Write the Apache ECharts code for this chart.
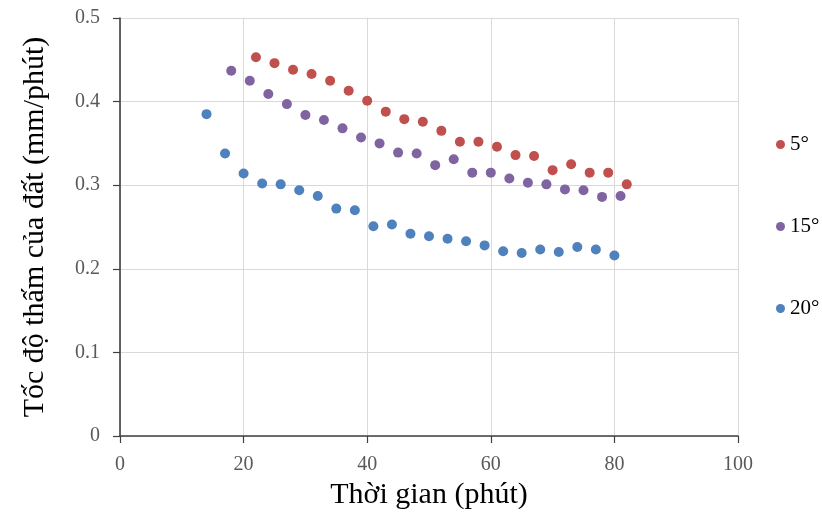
<!DOCTYPE html>
<html>
<head>
<meta charset="utf-8">
<script src="https://cdn.jsdelivr.net/npm/echarts@6/dist/echarts.min.js"></script>
<style>html,body{margin:0;padding:0;background:#fff}#c{width:822px;height:516px}</style>
</head>
<body>
<div id="c"></div>
<script>
const seriesNames = ['5°', '15°', '20°'];
const colors = ['#C0504D', '#8064A2', '#4F81BD'];

const time5 = [22, 25, 28, 31, 34, 37, 40, 43, 46, 49, 52, 55, 58, 61, 64, 67, 70, 73, 76, 79, 82];
const rate5 = [0.453, 0.446, 0.438, 0.433, 0.425, 0.413, 0.401, 0.388, 0.379, 0.376, 0.365, 0.352, 0.352, 0.346, 0.336, 0.335, 0.318, 0.325, 0.315, 0.315, 0.301];

const time15 = [18, 21, 24, 27, 30, 33, 36, 39, 42, 45, 48, 51, 54, 57, 60, 63, 66, 69, 72, 75, 78, 81];
const rate15 = [0.437, 0.425, 0.409, 0.397, 0.384, 0.378, 0.368, 0.357, 0.350, 0.339, 0.338, 0.324, 0.331, 0.315, 0.315, 0.308, 0.303, 0.301, 0.295, 0.294, 0.286, 0.287];

const time20 = [14, 17, 20, 23, 26, 29, 32, 35, 38, 41, 44, 47, 50, 53, 56, 59, 62, 65, 68, 71, 74, 77, 80];
const rate20 = [0.385, 0.338, 0.314, 0.302, 0.301, 0.294, 0.287, 0.272, 0.270, 0.251, 0.253, 0.242, 0.239, 0.236, 0.233, 0.228, 0.221, 0.219, 0.223, 0.220, 0.226, 0.223, 0.216];

const xTicks = [0, 20, 40, 60, 80, 100];
const yTicks = [0, 0.1, 0.2, 0.3, 0.4, 0.5];

const allTimes = [time5, time15, time20];
const allRates = [rate5, rate15, rate20];

const font = '"Liberation Serif", "Times New Roman", serif';

const chart = echarts.init(document.getElementById('c'), null, {renderer: 'canvas'});
chart.setOption({
  backgroundColor: '#ffffff',
  animation: false,
  grid: {left: 120, right: 84, top: 18, bottom: 80, containLabel: false},
  xAxis: {
    type: 'value',
    min: xTicks[0], max: xTicks[xTicks.length - 1], interval: 20,
    name: 'Thời gian (phút)', nameLocation: 'middle', nameGap: 44,
    nameTextStyle: {fontFamily: font, fontSize: 30, color: '#000'},
    axisLine: {show: true, onZero: false, lineStyle: {color: '#404040', width: 1.6}},
    axisTick: {show: true, length: 7, lineStyle: {color: '#404040', width: 1.2}},
    axisLabel: {fontFamily: font, fontSize: 20, color: '#595959', margin: 19},
    splitLine: {show: true, lineStyle: {color: '#D9D9D9', width: 1}}
  },
  yAxis: {
    type: 'value',
    min: yTicks[0], max: yTicks[yTicks.length - 1], interval: 0.1,
    name: 'Tốc độ thấm của đất (mm/phút)', nameLocation: 'middle', nameGap: 70,
    nameTextStyle: {fontFamily: font, fontSize: 30, color: '#000'},
    axisLine: {show: true, onZero: false, lineStyle: {color: '#404040', width: 1.6}},
    axisTick: {show: true, length: 7, lineStyle: {color: '#404040', width: 1.2}},
    axisLabel: {fontFamily: font, fontSize: 20, color: '#595959', margin: 20,
      formatter: v => (Math.round(v * 10) / 10).toString()},
    splitLine: {show: true, lineStyle: {color: '#D9D9D9', width: 1}}
  },
  legend: {
    orient: 'vertical', left: 771, top: 129, itemGap: 61,
    itemWidth: 9, itemHeight: 9,
    textStyle: {fontFamily: font, fontSize: 21, color: '#000'},
    data: seriesNames.map(n => ({name: n, icon: 'circle'}))
  },
  series: seriesNames.map((n, i) => ({
    name: n, type: 'scatter', symbol: 'circle', symbolSize: 10,
    itemStyle: {color: colors[i], opacity: 1},
    data: allTimes[i].map((t, j) => [t, allRates[i][j]])
  }))
});
</script>
</body>
</html>
